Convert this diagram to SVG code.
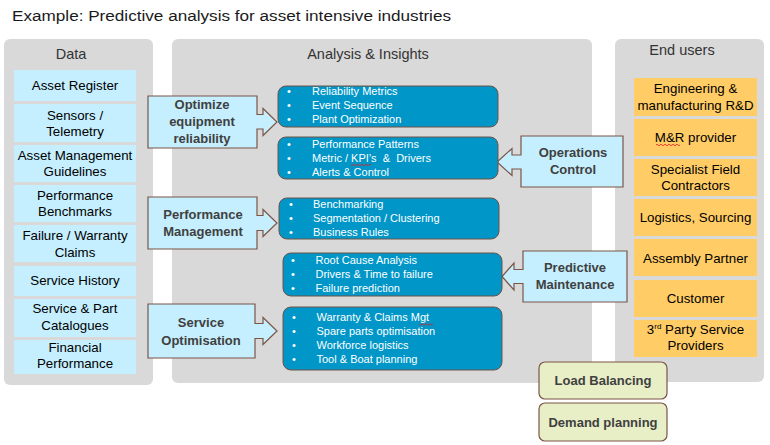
<svg xmlns="http://www.w3.org/2000/svg" width="770" height="445" viewBox="0 0 770 445">
<style>
.panel{fill:#d9d9d9}
.plabel{font-family:"Liberation Sans",Arial,sans-serif;font-size:14.5px;fill:#333;text-anchor:middle}
.dbox{fill:#c5effe}
.ubox{fill:#ffcc66}
.btxt{font-family:"Liberation Sans",Arial,sans-serif;font-size:13.3px;fill:#000;text-anchor:middle}
.blue{fill:#0096c8;stroke:#6e5248;stroke-width:1}
.bul{font-family:"Liberation Sans",Arial,sans-serif;font-size:11px;fill:#fff}
.call{fill:#c5effe;stroke:#7b5546;stroke-width:1.2}
.ctxt{font-family:"Liberation Sans",Arial,sans-serif;font-size:13px;font-weight:bold;fill:#404040;text-anchor:middle}
.green{fill:#e8eec6;stroke:#7b5546;stroke-width:1.2}
.sq{fill:none;stroke:#e02020;stroke-width:0.8}
</style>
<rect width="770" height="445" fill="#fff"/>
<text x="12" y="21" font-family="Liberation Sans,Arial,sans-serif" font-size="15.5" fill="#1a1a1a" textLength="439" lengthAdjust="spacingAndGlyphs">Example: Predictive analysis for asset intensive industries</text>

<g id="panel-data">
<rect class="panel" x="4" y="39" width="149" height="346" rx="6"/>
<text class="plabel" x="71" y="59">Data</text>
</g>
<g id="panel-analysis">
<rect class="panel" x="172" y="39" width="420" height="344" rx="6"/>
<text class="plabel" x="368" y="59">Analysis &amp; Insights</text>
</g>
<g id="panel-users">
<rect class="panel" x="615" y="39" width="149" height="343" rx="6"/>
<text class="plabel" x="682" y="55">End users</text>
</g>

<g id="data-asset-register"><rect class="dbox" x="14" y="70" width="122" height="31"/><text class="btxt" x="75" y="90">Asset Register</text></g>
<g id="data-sensors"><rect class="dbox" x="14" y="104" width="122" height="38"/><text class="btxt" x="75" y="120">Sensors /</text><text class="btxt" x="75" y="136">Telemetry</text></g>
<g id="data-amg"><rect class="dbox" x="14" y="145" width="122" height="37"/><text class="btxt" x="75" y="160">Asset Management</text><text class="btxt" x="75" y="175.5">Guidelines</text></g>
<g id="data-perf"><rect class="dbox" x="14" y="185" width="122" height="37"/><text class="btxt" x="75" y="200">Performance</text><text class="btxt" x="75" y="215.5">Benchmarks</text></g>
<g id="data-failure"><rect class="dbox" x="14" y="225" width="122" height="37"/><text class="btxt" x="75" y="240">Failure / Warranty</text><text class="btxt" x="75" y="256.5">Claims</text></g>
<g id="data-history"><rect class="dbox" x="14" y="266" width="122" height="30"/><text class="btxt" x="75" y="285">Service History</text></g>
<g id="data-catalogues"><rect class="dbox" x="14" y="299" width="122" height="38"/><text class="btxt" x="75" y="313">Service &amp; Part</text><text class="btxt" x="75" y="330">Catalogues</text></g>
<g id="data-financial"><rect class="dbox" x="14" y="340" width="122" height="34"/><text class="btxt" x="75" y="352">Financial</text><text class="btxt" x="75" y="368">Performance</text></g>

<g id="user-eng"><rect class="ubox" x="634" y="78" width="123" height="38"/><text class="btxt" x="695.5" y="93.3">Engineering &amp;</text><text class="btxt" x="695.5" y="110">manufacturing R&amp;D</text></g>
<g id="user-mr"><rect class="ubox" x="634" y="119" width="123" height="37"/><text class="btxt" x="695.5" y="141.7">M&amp;R provider</text><path class="sq" d="M656,145 q1,-1.5 2,0 t2,0 t2,0 t2,0 t2,0 t2,0 t2,0 t2,0 t2,0 t2,0 t2,0 t2,0"/></g>
<g id="user-specialist"><rect class="ubox" x="634" y="159" width="123" height="37"/><text class="btxt" x="695.5" y="174.3">Specialist Field</text><text class="btxt" x="695.5" y="190.3">Contractors</text></g>
<g id="user-logistics"><rect class="ubox" x="634" y="199" width="123" height="37"/><text class="btxt" x="695.5" y="221.7">Logistics, Sourcing</text></g>
<g id="user-assembly"><rect class="ubox" x="634" y="239" width="123" height="37"/><text class="btxt" x="695.5" y="263.3">Assembly Partner</text></g>
<g id="user-customer"><rect class="ubox" x="634" y="280" width="123" height="37"/><text class="btxt" x="695.5" y="303.3">Customer</text></g>
<g id="user-3rd"><rect class="ubox" x="634" y="320" width="123" height="37"/><text class="btxt" x="695.5" y="334">3<tspan font-size="8" dy="-5">rd</tspan><tspan dy="5"> Party Service</tspan></text><text class="btxt" x="695.5" y="350">Providers</text></g>

<g id="connectors">
<path id="callout-optimize-shape" class="call" d="M148,96 H257 V114.5 H263 V108.5 L277,122 L263,135.5 V129 H257 V148 H148 Z"/>
<path id="callout-perf-shape" class="call" d="M148,197 H257 V215.5 H263 V209.5 L277,223 L263,236.5 V230.5 H257 V249 H148 Z"/>
<path id="callout-service-shape" class="call" d="M148,304 H255 V323.5 H263 V317.5 L277,331 L263,344.5 V338.5 H255 V358 H148 Z"/>
<path id="callout-ops-shape" class="call" d="M623,136 H521 V155 H512 V148.5 L497,162 L512,175.5 V169 H521 V187 H623 Z"/>
<path id="callout-pred-shape" class="call" d="M627,251 H523 V269.5 H514 V263 L502,276.5 L514,290 V283.5 H523 V302 H627 Z"/>
</g>

<g id="node-optimize"><text class="ctxt" x="202" y="109">Optimize</text><text class="ctxt" x="202" y="126">equipment</text><text class="ctxt" x="202" y="143">reliability</text></g>
<g id="node-perf"><text class="ctxt" x="203" y="218.5">Performance</text><text class="ctxt" x="203" y="236">Management</text></g>
<g id="node-service"><text class="ctxt" x="201" y="326.7">Service</text><text class="ctxt" x="201" y="345">Optimisation</text></g>
<g id="node-ops"><text class="ctxt" x="573" y="156.7">Operations</text><text class="ctxt" x="573" y="174.3">Control</text></g>
<g id="node-pred"><text class="ctxt" x="575" y="271.7">Predictive</text><text class="ctxt" x="575" y="289.3">Maintenance</text></g>

<g id="box-reliability">
<rect class="blue" x="278" y="86" width="220" height="41" rx="8"/>
<text class="bul"><tspan x="287" y="95">•</tspan><tspan x="312" y="95">Reliability Metrics</tspan><tspan x="287" y="109">•</tspan><tspan x="312" y="109">Event Sequence</tspan><tspan x="287" y="123">•</tspan><tspan x="312" y="123">Plant Optimization</tspan></text>
</g>
<g id="box-performance">
<rect class="blue" x="278" y="137" width="220" height="42" rx="8"/>
<text class="bul" xml:space="preserve"><tspan x="287" y="148">•</tspan><tspan x="312" y="148">Performance Patterns</tspan><tspan x="287" y="162">•</tspan><tspan x="312" y="162">Metric / KPI’s  &amp;  Drivers</tspan><tspan x="287" y="176">•</tspan><tspan x="312" y="176">Alerts &amp; Control</tspan></text>
<path class="sq" d="M351,165 q1,1.5 2,0 t2,0 t2,0 t2,0 t2,0 t2,0 t2,0 t2,0 t2,0 t2,0"/>
</g>
<g id="box-benchmark">
<rect class="blue" x="279" y="198" width="220" height="41" rx="8"/>
<text class="bul"><tspan x="289" y="207.5">•</tspan><tspan x="313" y="207.5">Benchmarking</tspan><tspan x="289" y="221.5">•</tspan><tspan x="313" y="221.5">Segmentation / Clustering</tspan><tspan x="289" y="235.5">•</tspan><tspan x="313" y="235.5">Business Rules</tspan></text>
</g>
<g id="box-rootcause">
<rect class="blue" x="283" y="253" width="219" height="43" rx="8"/>
<text class="bul"><tspan x="291" y="264">•</tspan><tspan x="315.5" y="264">Root Cause Analysis</tspan><tspan x="291" y="278">•</tspan><tspan x="315.5" y="278">Drivers &amp; Time to failure</tspan><tspan x="291" y="292">•</tspan><tspan x="315.5" y="292">Failure prediction</tspan></text>
</g>
<g id="box-warranty">
<rect class="blue" x="283" y="307" width="219" height="63" rx="8"/>
<text class="bul"><tspan x="292" y="321">•</tspan><tspan x="316.5" y="321">Warranty &amp; Claims Mgt</tspan><tspan x="292" y="335">•</tspan><tspan x="316.5" y="335">Spare parts optimisation</tspan><tspan x="292" y="349">•</tspan><tspan x="316.5" y="349">Workforce logistics</tspan><tspan x="292" y="363">•</tspan><tspan x="316.5" y="363">Tool &amp; Boat planning</tspan></text>
<path class="sq" d="M419,324.5 q1,1.5 2,0 t2,0 t2,0 t2,0 t2,0 t2,0 t2,0"/>
</g>

<g id="node-load"><rect class="green" x="539" y="362" width="128" height="37" rx="6"/><text class="ctxt" x="603" y="385">Load Balancing</text></g>
<g id="node-demand"><rect class="green" x="539" y="403" width="128" height="38" rx="6"/><text class="ctxt" x="603" y="426.7">Demand planning</text></g>
</svg>
